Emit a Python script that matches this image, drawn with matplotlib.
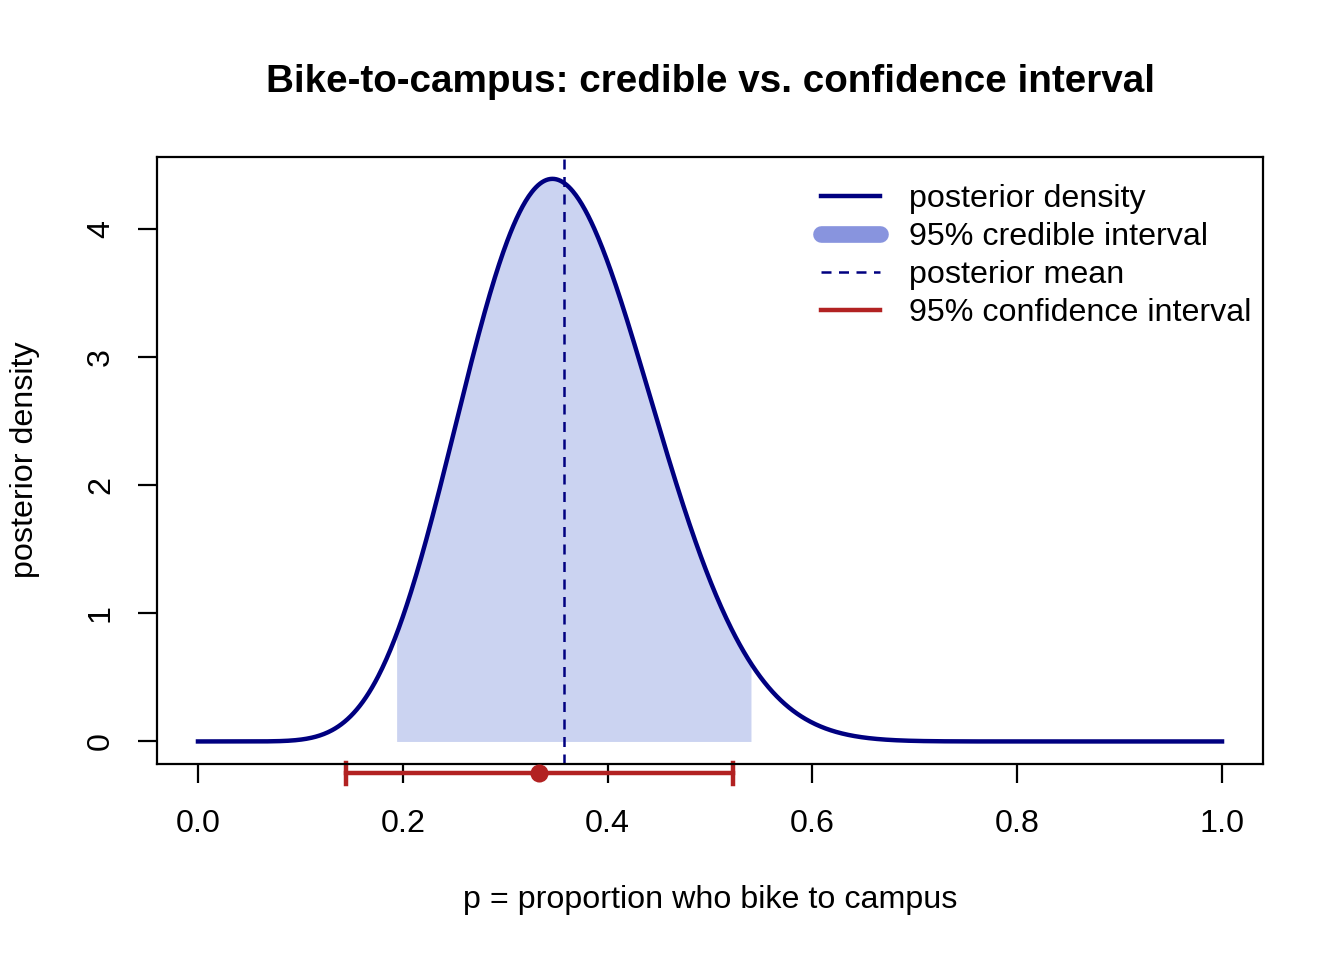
import math
import numpy as np
import matplotlib
matplotlib.use("Agg")
import matplotlib.pyplot as plt
from matplotlib.lines import Line2D

plt.rcParams['font.family'] = ['Liberation Sans', 'DejaVu Sans']

# posterior Beta(a, b) after 8 of 24 bike, Beta(2,2) prior
post_a = 10
post_b = 18
post_mean = 10 / 28
cred_lo = 0.194
cred_hi = 0.540

# frequentist interval
p_hat = 8 / 24
ci_lo = 0.145
ci_hi = 0.522
ci_y = -0.25

x_ticks = [0.0, 0.2, 0.4, 0.6, 0.8, 1.0]
y_ticks = [0, 1, 2, 3, 4]

p = np.linspace(0, 1, 1001)
logc = math.lgamma(post_a + post_b) - math.lgamma(post_a) - math.lgamma(post_b)
with np.errstate(divide='ignore'):
    dens = np.exp(logc + (post_a - 1) * np.log(p) + (post_b - 1) * np.log1p(-p))
dens = np.nan_to_num(dens)

fs = 11.6

fig = plt.figure(figsize=(6.72, 4.8), dpi=200)
ax = fig.add_axes([157/1344, 1 - 764/960, 1106/1344, 607/960])

inside = (p >= cred_lo) & (p <= cred_hi)
ax.fill_between(p[inside], 0, dens[inside], color='#CBD3F1', lw=0)
ax.plot(p, dens, color='#000080', lw=1.6)
ax.axvline(post_mean, color='#000080', lw=0.9, ls=(0, (4, 3)))

# confidence interval below the axis
ax.plot([ci_lo, ci_hi], [ci_y, ci_y], color='#B22222', lw=1.6, clip_on=False)
for xe in (ci_lo, ci_hi):
    ax.plot([xe, xe], [ci_y - 0.085, ci_y + 0.085], color='#B22222', lw=1.6,
            clip_on=False)
ax.plot([p_hat], [ci_y], 'o', color='#B22222', ms=5.5, clip_on=False, zorder=5)

ax.set_xlim(-0.04, 1.04)
ax.set_ylim(-0.176, 4.5625)
ax.set_xticks(x_ticks)
ax.set_xticklabels([f"{t:.1f}" for t in x_ticks])
ax.set_yticks(y_ticks)
ax.set_yticklabels([str(t) for t in y_ticks], rotation=90, va='center')
ax.tick_params(direction='out', length=6.8, width=0.8, labelsize=fs)
ax.tick_params(axis='x', pad=9.5)
ax.tick_params(axis='y', pad=8)
for s in ax.spines.values():
    s.set_linewidth(0.8)

fig.text(710/1344, 1 - 900/960, "p = proportion who bike to campus",
         ha='center', va='center', fontsize=fs)
fig.text(25/1344, 1 - 460/960, "posterior density", rotation=90,
         ha='center', va='center', fontsize=fs)
fig.text(710/1344, 1 - 82/960, "Bike-to-campus: credible vs. confidence interval",
         ha='center', va='center', fontsize=13.9, fontweight='bold')

handles = [
    Line2D([], [], color='#000080', lw=1.6),
    Line2D([], [], color='#8894DE', lw=6, solid_capstyle='round'),
    Line2D([], [], color='#000080', lw=0.9, ls=(0, (4, 3))),
    Line2D([], [], color='#B22222', lw=1.6),
]
labels = ["posterior density", "95% credible interval", "posterior mean",
          "95% confidence interval"]
ax.legend(handles, labels, loc='upper left', bbox_to_anchor=(0.600, 0.955),
          frameon=False, fontsize=fs, borderpad=0, borderaxespad=0,
          handlelength=1.85, handletextpad=0.9, labelspacing=0.25)

fig.savefig("out.png", dpi=200)
